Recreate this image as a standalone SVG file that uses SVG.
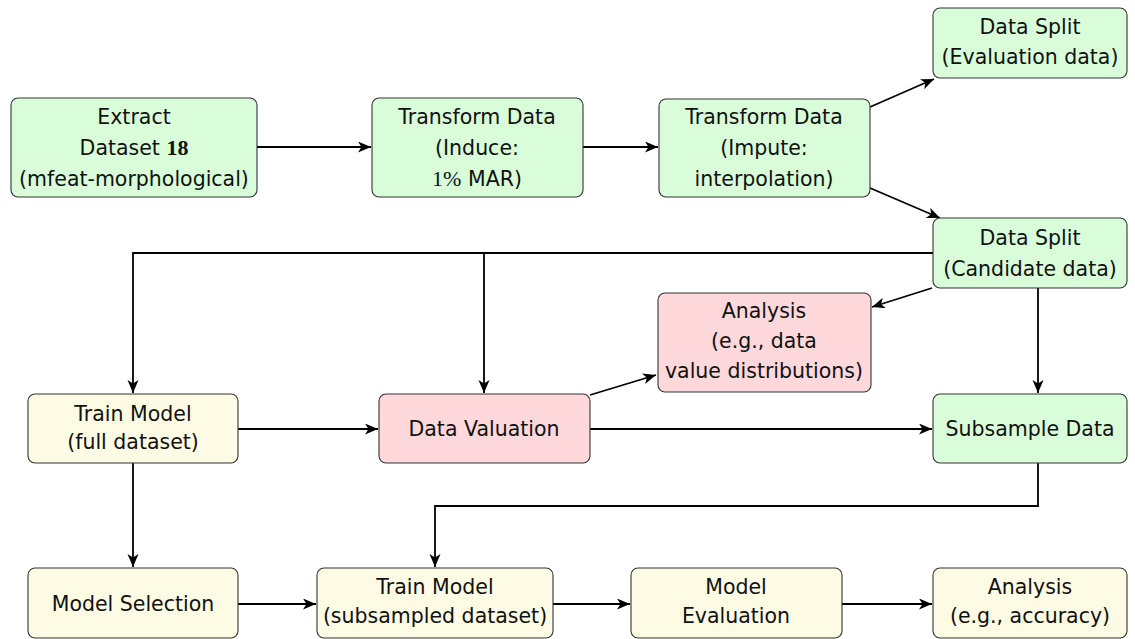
<svg xmlns="http://www.w3.org/2000/svg" width="1135" height="639" viewBox="0 0 1135 639">
<style>
.g{fill:#d9fdd9;stroke:#333;stroke-width:1.1}
.r{fill:#fed8da;stroke:#333;stroke-width:1.1}
.y{fill:#fdfbe4;stroke:#333;stroke-width:1.1}
text{font-family:"DejaVu Sans","Liberation Sans",sans-serif;font-size:20.5px;fill:#111;text-anchor:middle}
.m{font-family:"Liberation Serif",serif;font-size:22px}
.c path{fill:none;stroke:#000;stroke-width:1.8}
</style>
<defs>
<marker id="a" markerUnits="userSpaceOnUse" markerWidth="14" markerHeight="12" refX="13" refY="5.5" orient="auto">
<path d="M0,0 L13,5.5 L0,11 L3.5,5.5 Z" fill="#000"/>
</marker>
</defs>
<g class="c">
<path d="M257,147 H371" marker-end="url(#a)"/>
<path d="M583,147 H658" marker-end="url(#a)"/>
<path d="M870,107 L934,79" marker-end="url(#a)"/>
<path d="M870,188 L940,218" marker-end="url(#a)"/>
<path d="M933,253 H133 V393" marker-end="url(#a)"/>
<path d="M484,253 V393" marker-end="url(#a)"/>
<path d="M932,288 L872,307" marker-end="url(#a)"/>
<path d="M1038,288 V393" marker-end="url(#a)"/>
<path d="M238,429 H378" marker-end="url(#a)"/>
<path d="M590,395 L656,375" marker-end="url(#a)"/>
<path d="M590,429 H932" marker-end="url(#a)"/>
<path d="M133,463 V567" marker-end="url(#a)"/>
<path d="M1038,463 V506 H435 V567" marker-end="url(#a)"/>
<path d="M238,604 H316" marker-end="url(#a)"/>
<path d="M553,604 H630" marker-end="url(#a)"/>
<path d="M842,604 H932" marker-end="url(#a)"/>
</g>
<g id="extract"><rect class="g" x="11" y="98" width="246" height="99" rx="7"/>
<text x="134" y="124">Extract</text>
<text x="134" y="155">Dataset <tspan class="m" font-weight="bold">18</tspan></text>
<text x="134" y="186">(mfeat-morphological)</text></g>
<g id="induce"><rect class="g" x="372" y="98" width="211" height="99" rx="7"/>
<text x="477" y="124">Transform Data</text>
<text x="477" y="155">(Induce:</text>
<text x="477" y="186"><tspan class="m">1%</tspan> MAR)</text></g>
<g id="impute"><rect class="g" x="659" y="99" width="211" height="98" rx="7"/>
<text x="764" y="124">Transform Data</text>
<text x="764" y="155">(Impute:</text>
<text x="764" y="186">interpolation)</text></g>
<g id="evalsplit"><rect class="g" x="933" y="8" width="194" height="70" rx="7"/>
<text x="1030" y="34">Data Split</text>
<text x="1030" y="64">(Evaluation data)</text></g>
<g id="candsplit"><rect class="g" x="933" y="218" width="194" height="70" rx="7"/>
<text x="1030" y="245">Data Split</text>
<text x="1030" y="276">(Candidate data)</text></g>
<g id="analysis1"><rect class="r" x="658" y="293" width="213" height="99" rx="7"/>
<text x="764" y="318">Analysis</text>
<text x="764" y="348">(e.g., data</text>
<text x="764" y="378">value distributions)</text></g>
<g id="trainfull"><rect class="y" x="28" y="394" width="210" height="69" rx="7"/>
<text x="133" y="421">Train Model</text>
<text x="133" y="449">(full dataset)</text></g>
<g id="dataval"><rect class="r" x="379" y="394" width="211" height="69" rx="7"/>
<text x="484" y="436">Data Valuation</text></g>
<g id="subsample"><rect class="g" x="933" y="394" width="194" height="69" rx="7"/>
<text x="1030" y="436">Subsample Data</text></g>
<g id="modelsel"><rect class="y" x="28" y="568" width="210" height="70" rx="7"/>
<text x="133" y="611">Model Selection</text></g>
<g id="trainsub"><rect class="y" x="317" y="568" width="236" height="70" rx="7"/>
<text x="435" y="594">Train Model</text>
<text x="435" y="623">(subsampled dataset)</text></g>
<g id="modeleval"><rect class="y" x="631" y="568" width="211" height="70" rx="7"/>
<text x="736" y="594">Model</text>
<text x="736" y="623">Evaluation</text></g>
<g id="analysis2"><rect class="y" x="933" y="568" width="194" height="70" rx="7"/>
<text x="1030" y="594">Analysis</text>
<text x="1030" y="623">(e.g., accuracy)</text></g>
</svg>
